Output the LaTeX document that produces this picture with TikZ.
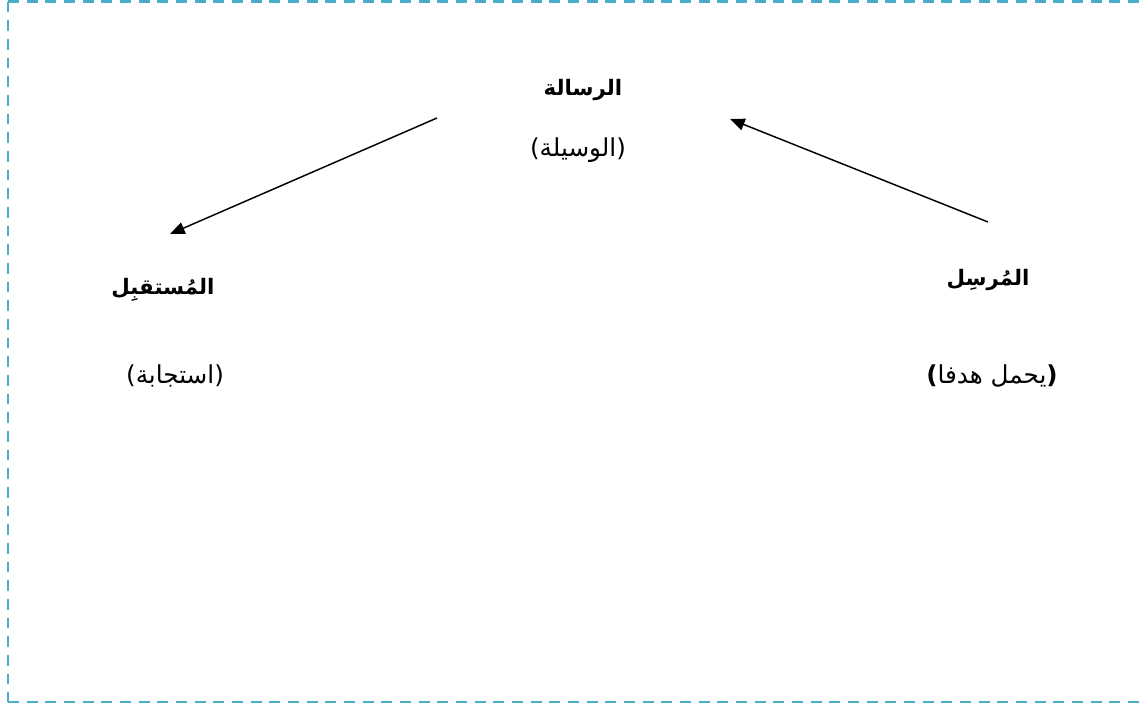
\documentclass[tikz,border=0pt]{standalone}
\usepackage{fontspec}
\setmainfont{DejaVu Sans}
\newfontfamily\arabicfont[Script=Arabic]{DejaVu Sans}
\TeXXeTstate=1
\usetikzlibrary{arrows.meta}
\definecolor{frameblue}{HTML}{4BACC6}
\begin{document}
\begin{tikzpicture}[x=0.75pt,y=-0.75pt,
  lbl/.style={inner sep=0pt, font=\arabicfont\fontsize{18.5pt}{22pt}\selectfont},
  title/.style={lbl, font=\arabicfont\bfseries\fontsize{16pt}{19pt}\selectfont},
  frame/.style={frameblue, line width=1.6pt, dash pattern=on 8.2pt off 5.8pt},
  arr/.style={line width=1.1pt, -{Triangle[length=11pt,width=9pt]}}]
\useasboundingbox (0,0) rectangle (1141,707);
\draw[frame] (8,1.5) -- (1150,1.5);
\draw[frame] (8,1.5) -- (8,702);
\draw[frame] (8,702) -- (1150,702);
% nodes
\node[title] (msg) at (583,90) {\beginR الرسالة\endR};
\node[lbl] (medium) at (578,150) {)\beginR الوسيلة\endR(};
\node[title] (sender) at (988,280) {\beginR المُرسِل\endR};
\node[lbl] (goal) at (992,376) {{\bfseries)}\beginR يحمل هدفا\endR{\bfseries(}};
\node[title] (receiver) at (163,290) {\beginR المُستقبِل\endR};
\node[lbl] (resp) at (175,376) {)\beginR استجابة\endR(};
% connector ends
\coordinate (r1) at (437,118);
\coordinate (r2) at (170,234);
\coordinate (s1) at (988,222);
\coordinate (s2) at (730,119);
\draw[arr] (r1) -- (r2);
\draw[arr] (s1) -- (s2);
\end{tikzpicture}
\end{document}
